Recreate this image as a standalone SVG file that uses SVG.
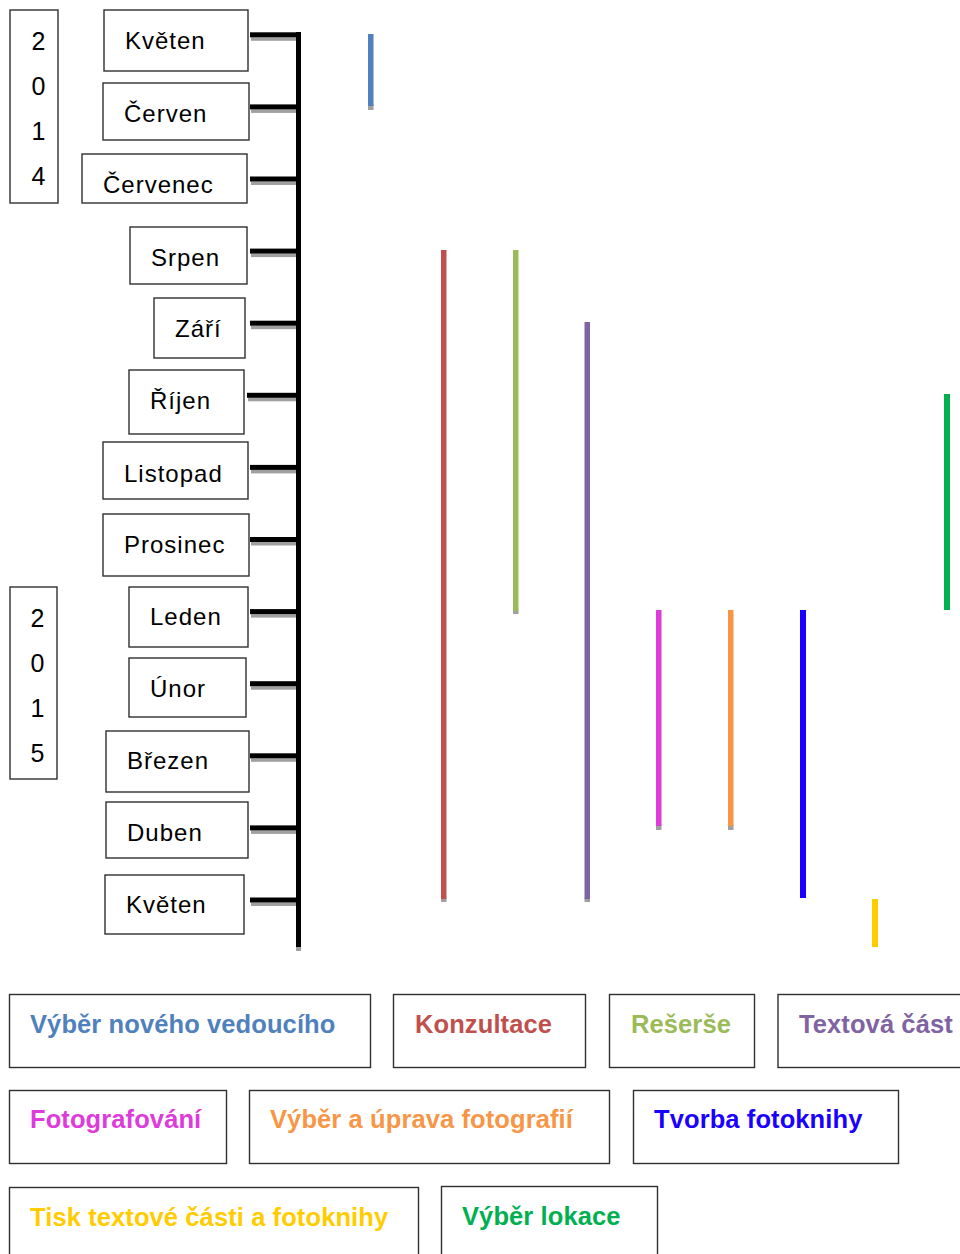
<svg xmlns="http://www.w3.org/2000/svg" width="960" height="1254" viewBox="0 0 960 1254">
<style>
.box{fill:#fff;stroke:#303030;stroke-width:1.4}
.m{font-family:"Liberation Sans",Arial,sans-serif;font-size:24px;letter-spacing:1px;fill:#000}
.y{font-family:"Liberation Sans",Arial,sans-serif;font-size:25px;fill:#000;text-anchor:middle}
.lg{font-family:"Liberation Sans",Arial,sans-serif;font-size:25.5px;font-weight:bold;letter-spacing:0.1px}
.tk{fill:#000}
.sh{fill:#a0a0a0}
</style>
<rect width="960" height="1254" fill="#fff"/>

<g id="year2014">
<rect class="box" x="10" y="10" width="48" height="193"/>
<text class="y" x="38.5" y="50">2</text>
<text class="y" x="38.5" y="95">0</text>
<text class="y" x="38.5" y="140">1</text>
<text class="y" x="38.5" y="185">4</text>
</g>
<g id="year2015">
<rect class="box" x="10" y="587" width="47" height="192"/>
<text class="y" x="37.5" y="626.5">2</text>
<text class="y" x="37.5" y="671.5">0</text>
<text class="y" x="37.5" y="716.5">1</text>
<text class="y" x="37.5" y="761.5">5</text>
</g>

<g id="m-kveten14"><rect class="box" x="104" y="10" width="144" height="61"/><text class="m" x="125" y="49">Květen</text></g>
<g id="m-cerven"><rect class="box" x="103" y="83" width="146" height="57"/><text class="m" x="124" y="122">Červen</text></g>
<g id="m-cervenec"><rect class="box" x="82" y="154" width="165" height="49"/><text class="m" x="103" y="193">Červenec</text></g>
<g id="m-srpen"><rect class="box" x="130" y="227" width="117" height="57"/><text class="m" x="151" y="266">Srpen</text></g>
<g id="m-zari"><rect class="box" x="154" y="298" width="91" height="60"/><text class="m" x="175" y="337">Září</text></g>
<g id="m-rijen"><rect class="box" x="129" y="370" width="115" height="64"/><text class="m" x="150" y="409">Říjen</text></g>
<g id="m-listopad"><rect class="box" x="103" y="442" width="145" height="57"/><text class="m" x="124" y="482">Listopad</text></g>
<g id="m-prosinec"><rect class="box" x="103" y="514" width="146" height="62"/><text class="m" x="124" y="553">Prosinec</text></g>
<g id="m-leden"><rect class="box" x="129" y="587" width="119" height="60"/><text class="m" x="150" y="625">Leden</text></g>
<g id="m-unor"><rect class="box" x="129" y="658" width="117" height="59"/><text class="m" x="150" y="697">Únor</text></g>
<g id="m-brezen"><rect class="box" x="106" y="731" width="143" height="61"/><text class="m" x="127" y="769">Březen</text></g>
<g id="m-duben"><rect class="box" x="106" y="802" width="142" height="56"/><text class="m" x="127" y="841">Duben</text></g>
<g id="m-kveten15"><rect class="box" x="105" y="875" width="139" height="59"/><text class="m" x="126" y="913">Květen</text></g>

<g id="connectors">
<rect class="sh" x="296" y="946" width="5" height="5"/>
<rect class="tk" x="296" y="32" width="5" height="915"/>
<rect class="sh" x="251" y="37.3" width="45" height="3.5"/>
<rect class="tk" x="250" y="32.3" width="51" height="5"/>
<rect class="sh" x="251" y="109.4" width="45" height="3.5"/>
<rect class="tk" x="250" y="104.4" width="47" height="5"/>
<rect class="sh" x="251" y="181.5" width="45" height="3.5"/>
<rect class="tk" x="250" y="176.5" width="47" height="5"/>
<rect class="sh" x="251" y="253.6" width="45" height="3.5"/>
<rect class="tk" x="250" y="248.6" width="47" height="5"/>
<rect class="sh" x="251" y="325.7" width="45" height="3.5"/>
<rect class="tk" x="250" y="320.7" width="47" height="5"/>
<rect class="sh" x="248" y="397.8" width="48" height="3.5"/>
<rect class="tk" x="247" y="392.8" width="50" height="5"/>
<rect class="sh" x="251" y="469.9" width="45" height="3.5"/>
<rect class="tk" x="250" y="464.9" width="47" height="5"/>
<rect class="sh" x="251" y="542" width="45" height="3.5"/>
<rect class="tk" x="250" y="537" width="47" height="5"/>
<rect class="sh" x="251" y="614.1" width="45" height="3.5"/>
<rect class="tk" x="250" y="609.1" width="47" height="5"/>
<rect class="sh" x="251" y="686.2" width="45" height="3.5"/>
<rect class="tk" x="250" y="681.2" width="47" height="5"/>
<rect class="sh" x="251" y="758.3" width="45" height="3.5"/>
<rect class="tk" x="250" y="753.3" width="47" height="5"/>
<rect class="sh" x="251" y="830.4" width="45" height="3.5"/>
<rect class="tk" x="250" y="825.4" width="47" height="5"/>
<rect class="sh" x="251" y="902.5" width="45" height="3.5"/>
<rect class="tk" x="250" y="897.5" width="47" height="5"/>
</g>

<g id="bars">
<rect class="sh" x="368" y="104" width="5.5" height="6"/>
<rect x="368" y="34" width="5.5" height="72" fill="#4F81BD"/>
<rect class="sh" x="441" y="898" width="5.5" height="4"/>
<rect x="441" y="250" width="5.5" height="649" fill="#C0504D"/>
<rect class="sh" x="513" y="610" width="5.5" height="4"/>
<rect x="513" y="250" width="5.5" height="361" fill="#9BBB59"/>
<rect class="sh" x="584.5" y="898" width="5.5" height="4"/>
<rect x="584.5" y="322" width="5.5" height="577" fill="#8064A2"/>
<rect class="sh" x="656" y="825" width="5.5" height="5"/>
<rect x="656" y="610" width="5.5" height="216" fill="#DD3CDB"/>
<rect class="sh" x="728" y="825" width="5.5" height="5"/>
<rect x="728" y="610" width="5.5" height="216" fill="#F79646"/>
<rect x="800" y="610" width="6" height="288" fill="#1A00FF"/>
<rect x="872" y="899" width="6" height="48" fill="#FFCC00"/>
<rect x="944" y="394" width="6" height="216" fill="#00B050"/>
</g>

<g id="legend-vyber-vedouciho"><rect class="box" x="9.5" y="994.5" width="361" height="73"/><text class="lg" x="30" y="1033" fill="#4F81BD">Výběr nového vedoucího</text></g>
<g id="legend-konzultace"><rect class="box" x="393.5" y="994.5" width="192" height="73"/><text class="lg" x="415" y="1033" fill="#C0504D">Konzultace</text></g>
<g id="legend-reserse"><rect class="box" x="609.5" y="994.5" width="145" height="73"/><text class="lg" x="631" y="1033" fill="#9BBB59">Rešerše</text></g>
<g id="legend-textova"><rect class="box" x="778" y="994.5" width="190" height="73"/><text class="lg" x="799" y="1033" fill="#8064A2">Textová část</text></g>
<g id="legend-fotografovani"><rect class="box" x="9.5" y="1090.5" width="217" height="73"/><text class="lg" x="30" y="1128" fill="#DD3CDB">Fotografování</text></g>
<g id="legend-uprava"><rect class="box" x="249.5" y="1090.5" width="360" height="73"/><text class="lg" x="270" y="1128" fill="#F79646">Výběr a úprava fotografií</text></g>
<g id="legend-tvorba"><rect class="box" x="633.5" y="1090.5" width="265" height="73"/><text class="lg" x="654" y="1128" fill="#1A00FF">Tvorba fotoknihy</text></g>
<g id="legend-tisk"><rect class="box" x="9.5" y="1187.5" width="409" height="80"/><text class="lg" x="30" y="1226" fill="#FFCC00">Tisk textové části a fotoknihy</text></g>
<g id="legend-lokace"><rect class="box" x="441.5" y="1186.5" width="216" height="80"/><text class="lg" x="462" y="1225" fill="#00B050">Výběr lokace</text></g>
</svg>
